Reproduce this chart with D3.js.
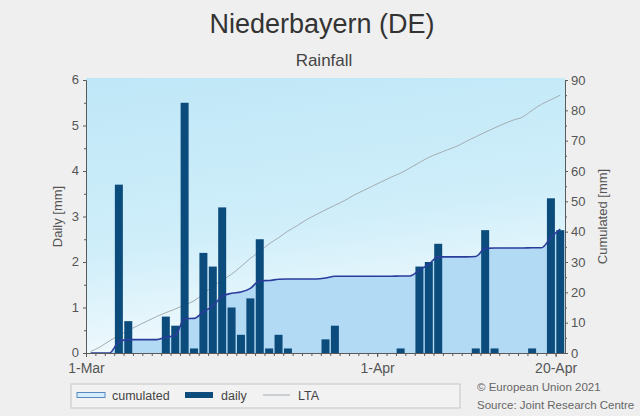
<!DOCTYPE html>
<html>
<head>
<meta charset="utf-8">
<script src="https://cdn.jsdelivr.net/npm/d3@7/dist/d3.min.js"></script>
<style>
  body { margin: 0; background: #efefef; }
  svg { display: block; font-family: "Liberation Sans", Arial, sans-serif; }
</style>
</head>
<body>
<div id="chart"></div>
<script>
// daily rainfall, 1-Mar .. 20-Apr 2021 (mm)
let daily = [0, 0, 0, 3.7, 0.7, 0, 0, 0, 0.8, 0.6,
    5.5, 0.1, 2.2, 1.9, 3.2, 1.0, 0.4, 1.2, 2.5, 0.1,
    0.4, 0.1, 0, 0, 0, 0.3, 0.6, 0, 0, 0,
    0, 0, 0, 0.1, 0, 1.9, 2.0, 2.4, 0, 0,
    0, 0.1, 2.7, 0.1, 0, 0, 0, 0.1, 0, 3.4, 2.7];
let cumulated = [0, 0, 0, 3.7, 4.4, 4.4, 4.4, 4.4, 5.2, 5.8,
    11.3, 11.4, 13.6, 15.5, 18.7, 19.7, 20.1, 21.3, 23.8, 23.9,
    24.3, 24.4, 24.4, 24.4, 24.4, 24.7, 25.3, 25.3, 25.3, 25.3,
    25.3, 25.3, 25.3, 25.4, 25.4, 27.3, 29.3, 31.7, 31.7, 31.7,
    31.7, 31.8, 34.5, 34.6, 34.6, 34.6, 34.6, 34.7, 34.7, 38.1, 40.8];
let lta = [0.5, 2, 4, 5.8, 7.5, 9, 10.5, 12, 13.3, 14.5,
    15.8, 17.2, 19.5, 22, 24, 26, 28.5, 31.2, 33.5, 36,
    38, 40.2, 42, 44, 45.6, 47.2, 48.7, 50.2, 52, 53.5,
    55, 56.5, 58, 59.3, 61, 62.8, 64.5, 65.8, 67, 68.2,
    69.8, 71.3, 72.8, 74.2, 75.6, 76.8, 77.8, 80, 82, 83.5, 85];
let xTickLabels = ["1-Mar", "1-Apr", "20-Apr"];
let xTickDates = [new Date(2021, 2, 1), new Date(2021, 3, 1), new Date(2021, 3, 20)];

let W = 640, H = 416;
let pLeft = 86, pRight = 565, pTop = 80, pBottom = 353;

let start = new Date(2021, 2, 1);
let days = daily.map((d, i) => d3.timeDay.offset(start, i));

let svg = d3.select("#chart").append("svg")
    .attr("width", W).attr("height", H);

svg.append("rect").attr("width", W).attr("height", H).attr("fill", "#efefef");

let x = d3.scaleTime()
    .domain([start, d3.timeDay.offset(start, daily.length)])
    .range([pLeft, pRight]);
let y = d3.scaleLinear().domain([0, 6]).range([pBottom, pTop]);
let y2 = d3.scaleLinear().domain([0, 90]).range([pBottom, pTop]);
let mid = d => new Date(d.getTime() + 12 * 3600 * 1000);
let dayW = x(days[1]) - x(days[0]);

// plot background gradient
let defs = svg.append("defs");
let grad = defs.append("linearGradient").attr("id", "bg")
    .attr("x1", 0).attr("y1", 0).attr("x2", 0.25).attr("y2", 1);
grad.append("stop").attr("offset", "0%").attr("stop-color", "#bfe7f7");
grad.append("stop").attr("offset", "60%").attr("stop-color", "#cfeefa");
grad.append("stop").attr("offset", "100%").attr("stop-color", "#f2fafd");

svg.append("rect")
    .attr("x", pLeft).attr("y", pTop - 2)
    .attr("width", pRight - pLeft).attr("height", pBottom - pTop + 2)
    .attr("fill", "url(#bg)");

// cumulated area
svg.append("path")
    .datum(cumulated)
    .attr("fill", "#b3daf4")
    .attr("d", d3.area()
        .x((d, i) => x(mid(days[i])))
        .y0(pBottom)
        .y1(d => y2(d))
        .curve(d3.curveMonotoneX));

// LTA
svg.append("path")
    .datum(lta)
    .attr("fill", "none")
    .attr("stroke", "#a4acb2")
    .attr("stroke-width", 1)
    .attr("d", d3.line()
        .x((d, i) => x(mid(days[i])))
        .y(d => y2(d))
        .curve(d3.curveMonotoneX));

// daily bars
svg.append("g")
    .selectAll("rect")
    .data(daily)
    .enter()
    .append("rect")
    .attr("x", (d, i) => x(mid(days[i])) - (dayW - 1.4) / 2)
    .attr("width", dayW - 1.4)
    .attr("y", d => y(d))
    .attr("height", d => pBottom - y(d))
    .attr("fill", "#0c4c7d");

// cumulated line
svg.append("path")
    .datum(cumulated)
    .attr("fill", "none")
    .attr("stroke", "#2a3c9c")
    .attr("stroke-width", 1.6)
    .attr("d", d3.line()
        .x((d, i) => x(mid(days[i])))
        .y(d => y2(d))
        .curve(d3.curveMonotoneX));

// axes
function styleAxis(g, size) {
    g.selectAll("path, line").attr("stroke", "#5a5a5a");
    g.selectAll("text").attr("fill", "#555").style("font-size", (size || 13) + "px")
        .style("font-family", "Liberation Sans, Arial, sans-serif");
}

svg.append("g")
    .attr("transform", "translate(" + pLeft + ",0)")
    .call(d3.axisLeft(y).tickValues(d3.range(0.5, 6, 1)).tickSize(2).tickFormat("").tickSizeOuter(0))
    .call(styleAxis);
svg.append("g")
    .attr("transform", "translate(" + pLeft + ",0)")
    .call(d3.axisLeft(y).ticks(6).tickSize(3).tickSizeOuter(0).tickPadding(4))
    .call(styleAxis)
    .call(g => g.selectAll(".tick text").attr("dy", "0.28em"));

svg.append("g")
    .attr("transform", "translate(" + pRight + ",0)")
    .call(d3.axisRight(y2).tickValues(d3.range(5, 90, 10)).tickSize(2).tickFormat("").tickSizeOuter(0))
    .call(styleAxis);
svg.append("g")
    .attr("transform", "translate(" + pRight + ",0)")
    .call(d3.axisRight(y2).ticks(9).tickSize(3).tickSizeOuter(0).tickPadding(3))
    .call(styleAxis);

svg.append("g")
    .attr("transform", "translate(0," + pBottom + ")")
    .call(d3.axisBottom(x).tickValues(days).tickSize(3).tickFormat("").tickSizeOuter(0))
    .call(styleAxis);
svg.append("g")
    .attr("transform", "translate(0," + pBottom + ")")
    .call(d3.axisBottom(x).tickValues(xTickDates).tickSize(4).tickSizeOuter(0).tickPadding(6)
        .tickFormat((d, i) => xTickLabels[i]))
    .call(g => styleAxis(g, 14))
    .call(g => g.select(".domain").remove());

// axis titles
svg.append("text")
    .attr("transform", "translate(62," + ((pTop + pBottom) / 2) + ") rotate(-90)")
    .attr("text-anchor", "middle")
    .attr("fill", "#555").style("font-size", "13px")
    .text("Daily [mm]");
svg.append("text")
    .attr("transform", "translate(607," + ((pTop + pBottom) / 2) + ") rotate(-90)")
    .attr("text-anchor", "middle")
    .attr("fill", "#555").style("font-size", "13px")
    .text("Cumulated [mm]");

// titles
svg.append("text")
    .attr("x", 322).attr("y", 33)
    .attr("text-anchor", "middle")
    .attr("fill", "#333").style("font-size", "27px")
    .text("Niederbayern (DE)");
svg.append("text")
    .attr("x", 324).attr("y", 66)
    .attr("text-anchor", "middle")
    .attr("fill", "#444").style("font-size", "17px")
    .text("Rainfall");

// legend
let lg = svg.append("g");
lg.append("rect")
    .attr("x", 71).attr("y", 384).attr("width", 389).attr("height", 24)
    .attr("fill", "#f2f2f2").attr("stroke", "#c4c4c4");
lg.append("rect")
    .attr("x", 77).attr("y", 392.5).attr("width", 28).attr("height", 5)
    .attr("fill", "#d3ecf9").attr("stroke", "#5a88c4");
lg.append("text").attr("x", 112).attr("y", 400)
    .attr("fill", "#444").style("font-size", "12.5px").text("cumulated");
lg.append("rect")
    .attr("x", 185).attr("y", 392).attr("width", 28).attr("height", 6)
    .attr("fill", "#0c4c7d");
lg.append("text").attr("x", 221).attr("y", 400)
    .attr("fill", "#444").style("font-size", "12.5px").text("daily");
lg.append("line")
    .attr("x1", 263).attr("x2", 290).attr("y1", 395).attr("y2", 395)
    .attr("stroke", "#a4acb2");
lg.append("text").attr("x", 298).attr("y", 400)
    .attr("fill", "#444").style("font-size", "12.5px").text("LTA");

svg.append("text").attr("x", 477).attr("y", 391)
    .attr("fill", "#666").style("font-size", "11.5px").text("© European Union 2021");
svg.append("text").attr("x", 477).attr("y", 409)
    .attr("fill", "#666").style("font-size", "11.5px").text("Source: Joint Research Centre");
</script>
</body>
</html>
